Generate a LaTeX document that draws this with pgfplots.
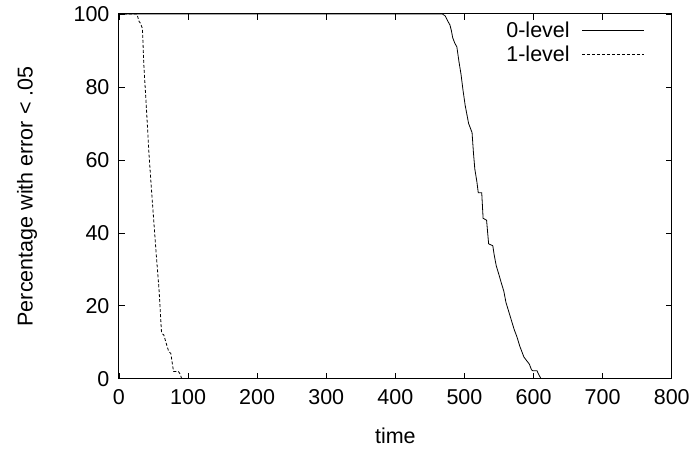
\documentclass[border=0pt]{standalone}
\usepackage{fontspec}
\setmainfont{Liberation Sans}
\usepackage{pgfplots}
\pgfplotsset{compat=1.18}

\begin{document}
\begin{tikzpicture}[font=\fontsize{21.5bp}{25bp}\selectfont]
\begin{axis}[
    scale only axis,
    width=553bp, height=365bp,
    xmin=0, xmax=800, ymin=0, ymax=100,
    xtick={0,100,...,800},
    ytick={0,20,...,100},
    tick align=inside,
    major tick length=6bp,
    tick style={black, line width=0.8bp},
    axis line style={line width=1bp},
    /pgf/number format/assume math mode=true,
    tick label style={font=\fontsize{21.5bp}{25bp}\selectfont},
    label style={font=\fontsize{21.5bp}{25bp}\selectfont},
    yticklabel style={xshift=-6bp},
    xticklabel style={yshift=-7bp},
    xlabel={time},
    ylabel={Percentage with error < .05},
    xlabel style={at={(axis description cs:0.5,0)}, anchor=center, yshift=-57bp},
    ylabel style={at={(axis description cs:0,0.5)}, anchor=center, rotate=0, yshift=92bp},
    legend plot pos=right,
    legend cell align=right,
    legend style={at={(rel axis cs:0.951,0.978)}, anchor=north east,
      draw=none, fill=none, inner sep=0pt, row sep=7bp,
      font=\fontsize{21.5bp}{25bp}\selectfont,
      nodes={inner sep=0pt},
      /tikz/every odd column/.append style={column sep=12bp}},
    legend image code/.code={\draw[#1] (0bp,0bp) -- (62bp,0bp);},
  ]
  \addplot[black, line width=0.8bp] coordinates {
    (0,100) (468,100) (472,99.5) (476,98) (479,97) (481,95.5) (483,93.5)
    (486,92) (489,91) (492,87) (495,83.5) (498,79) (501,75) (504,72)
    (506,70) (509,68.5) (511,67.5) (513,62) (515,57.5) (518,54) (520,51)
    (525,51) (527,44) (532,43.5) (535,37) (541,36.5) (543,34) (546,31)
    (550,28.5) (553,26.5) (557,24) (560,21) (564,18.5) (568,16) (572,13.5)
    (576,11.5) (580,9) (584,7) (586,6) (590,5) (594,4) (597,2.5) (599,2.2)
    (605,2.2) (608,1) (611,0) (800,0)
  };
  \addlegendentry{0-level}
  \addplot[black, line width=0.8bp, dash pattern=on 3bp off 2bp] coordinates {
    (0,100) (26,100) (29,98) (31,97.5) (34,96) (36,86) (39.5,75) (43.5,61.5)
    (47,52) (50.5,43) (54,34) (58,24.5) (61.5,13) (62,12.5) (65,12) (68,10)
    (72,7.5) (75,7) (79,2) (86,2) (88,1.5) (91,0) (800,0)
  };
  \addlegendentry{1-level}
\end{axis}
\path (current axis.south west) ++(-119bp,-70bp) rectangle ++(693bp,449bp);
\end{tikzpicture}
\end{document}
